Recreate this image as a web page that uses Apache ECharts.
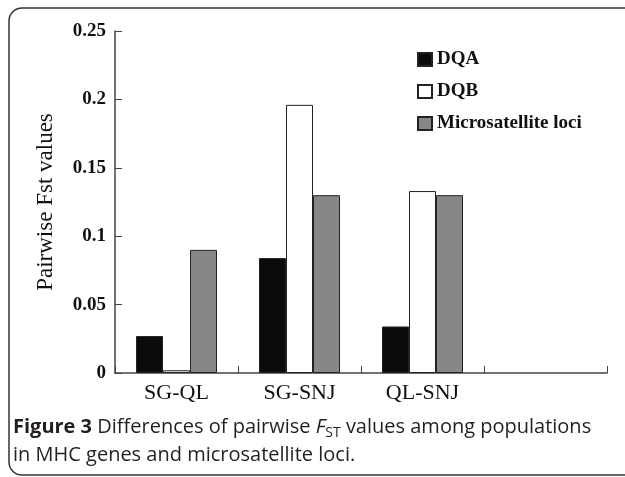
<!DOCTYPE html>
<html>
<head>
<meta charset="utf-8">
<script src="https://cdn.jsdelivr.net/npm/echarts@6/dist/echarts.min.js"></script>
<style>html,body{margin:0;padding:0;background:#fff}#c{width:625px;height:477px}</style>
</head>
<body>
<div id="c"></div>
<script>
var categories = ['SG-QL', 'SG-SNJ', 'QL-SNJ', ''];
var dqa = [0.027, 0.084, 0.034, null];
var dqb = [0.002, 0.196, 0.133, null];
var micro = [0.090, 0.130, 0.130, null];
var seriesNames = ['DQA', 'DQB', 'Microsatellite loci'];
var yTicks = [0, 0.05, 0.1, 0.15, 0.2, 0.25];

var chart = echarts.init(document.getElementById('c'), null, {renderer: 'canvas'});
var serif = '"Liberation Serif", "Times New Roman", serif';
var sans = '"Open Sans", "Noto Sans", sans-serif';
function bar(name, data, color) {
  return {
    name: name, type: 'bar', data: data, barWidth: 27, barGap: '0%',
    itemStyle: {color: color, borderColor: '#222', borderWidth: 1},
    silent: true
  };
}
chart.setOption({
  animation: false,
  backgroundColor: '#fff',
  grid: {left: 115, right: 18, top: 31, bottom: 104},
  legend: {
    orient: 'vertical', left: 412, top: 45,
    itemWidth: 14, itemHeight: 13, itemGap: 13,
    icon: 'rect',
    textStyle: {fontFamily: serif, fontSize: 19, fontWeight: 'bold', color: '#111'},
    data: seriesNames
  },
  xAxis: {
    type: 'category', data: categories,
    axisLine: {lineStyle: {color: '#444', width: 1.5}},
    axisTick: {show: true, inside: true, length: 7, alignWithLabel: false, lineStyle: {color: '#444'}},
    axisLabel: {fontFamily: serif, fontSize: 22, color: '#111', margin: 9}
  },
  yAxis: {
    type: 'value', min: 0, max: 0.25, interval: 0.05,
    name: 'Pairwise Fst values', nameLocation: 'middle', nameGap: 58,
    nameTextStyle: {fontFamily: serif, fontSize: 23, color: '#111'},
    axisLine: {show: true, lineStyle: {color: '#444', width: 1.5}},
    axisTick: {show: true, inside: true, length: 7, lineStyle: {color: '#444'}},
    splitLine: {show: false},
    axisLabel: {fontFamily: serif, fontSize: 19, fontWeight: 'bold', color: '#111', margin: 9}
  },
  series: [
    bar(seriesNames[0], dqa, '#0b0b0b'),
    bar(seriesNames[1], dqb, '#ffffff'),
    bar(seriesNames[2], micro, '#878787')
  ],
  graphic: [
    {type: 'rect', shape: {x: 9, y: 8, width: 640, height: 467, r: 13},
     style: {fill: 'none', stroke: '#333', lineWidth: 1.5}, silent: true},
    {type: 'text', left: 13, top: 417,
     style: {
       text: '{b|Figure 3} Differences of pairwise {i|F}{s|ST} values among populations',
       fontFamily: sans, fontSize: 20, fill: '#231f20',
       rich: {
         b: {fontFamily: sans, fontSize: 20, fontWeight: 'bold', fill: '#231f20', lineHeight: 26},
         i: {fontFamily: sans, fontSize: 20, fontStyle: 'italic', fill: '#231f20', lineHeight: 26},
         s: {fontFamily: sans, fontSize: 14, fill: '#231f20', lineHeight: 14, verticalAlign: 'bottom'}
       }
     }},
    {type: 'text', left: 13, top: 445,
     style: {text: 'in MHC genes and microsatellite loci.', fontFamily: sans, fontSize: 20, fill: '#231f20'}}
  ]
});
</script>
</body>
</html>
